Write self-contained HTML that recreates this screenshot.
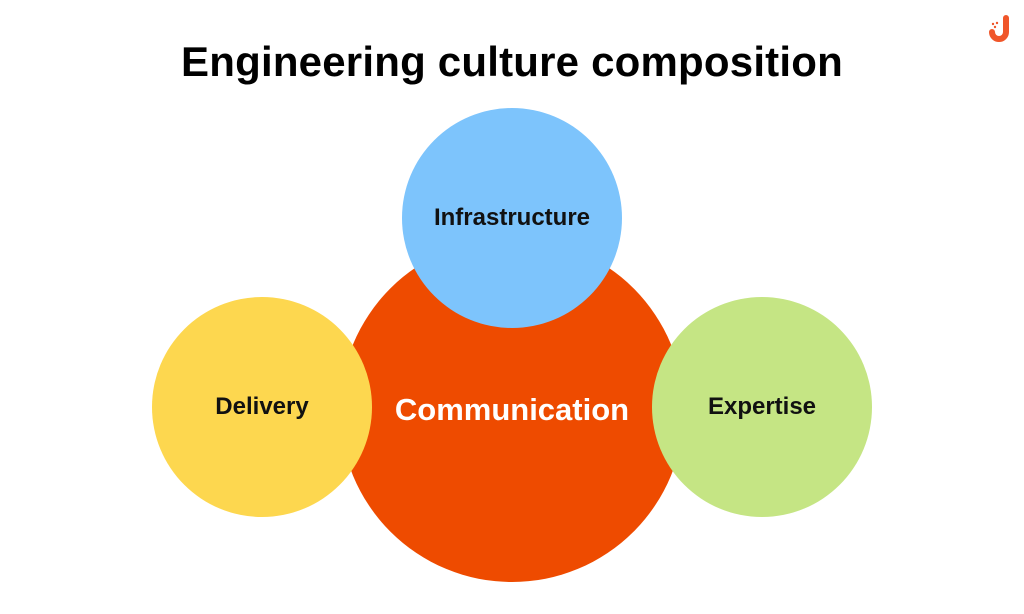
<!DOCTYPE html>
<html><head><meta charset="utf-8"><style>
html,body{margin:0;padding:0;background:#fff;}
body{width:1024px;height:614px;position:relative;overflow:hidden;font-family:"Liberation Sans",sans-serif;}
.t{position:absolute;left:0;width:1024px;top:38px;text-align:center;font-weight:bold;font-size:42px;color:#000;letter-spacing:0.2px;}
.c{position:absolute;border-radius:50%;display:flex;align-items:center;justify-content:center;font-weight:bold;font-size:24px;color:#111;}
</style></head><body>
<div class="t">Engineering culture composition</div>
<div class="c" style="left:340px;top:238px;width:344px;height:344px;background:#ee4b00;color:#fff;font-size:31px;">Communication</div>
<div class="c" style="left:402px;top:108px;width:220px;height:220px;background:#7dc4fc;">Infrastructure</div>
<div class="c" style="left:152px;top:297px;width:220px;height:220px;background:#fdd74f;">Delivery</div>
<div class="c" style="left:652px;top:297px;width:220px;height:220px;background:#c5e584;">Expertise</div>
<svg style="position:absolute;left:988px;top:14px" width="28" height="30" viewBox="0 0 28 30">
<path d="M18 4 V18 a7 7 0 0 1 -14 0" fill="none" stroke="#f0562a" stroke-width="6" stroke-linecap="round"/>
<circle cx="5" cy="10" r="1.2" fill="#f0562a"/><circle cx="9" cy="9" r="1.2" fill="#f0562a"/><circle cx="7" cy="13" r="1.2" fill="#f0562a"/>
</svg>
</body></html>
